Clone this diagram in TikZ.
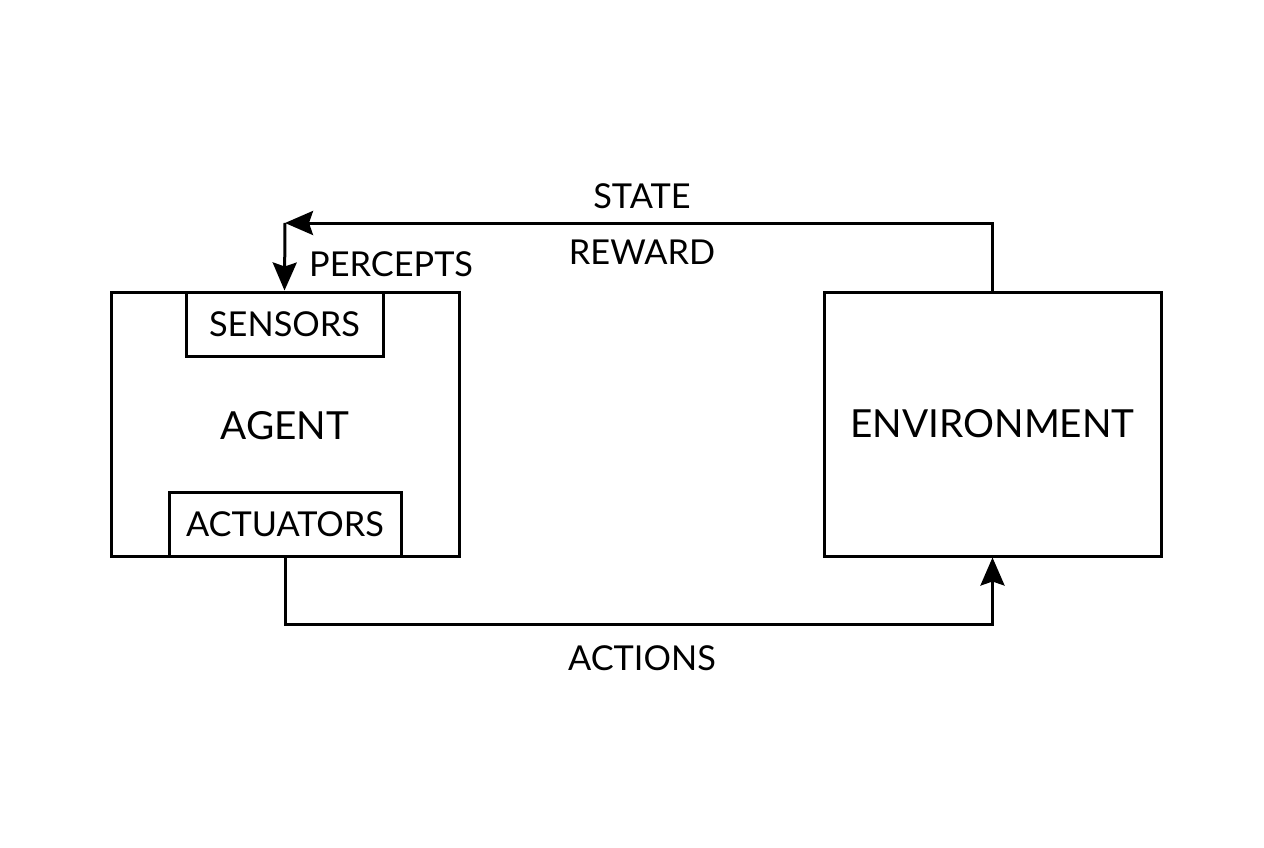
\documentclass[tikz,border=0pt]{standalone}
\usepackage{fontspec}
\setmainfont{Lato}
\usetikzlibrary{arrows.meta}
\begin{document}
\begin{tikzpicture}[x=1pt,y=-1pt,
  box/.style={draw=black,line width=3pt,inner sep=0pt},
  lbl/.style={font=\fontsize{34.3}{40}\selectfont,inner sep=0pt},
  big/.style={font=\fontsize{38.7}{46}\selectfont,inner sep=0pt},
  conn/.style={line width=3pt,line join=miter,-{Stealth[length=28pt,width=24pt,inset=4pt]}},
  plain/.style={line width=3pt}]
\useasboundingbox (0,0) rectangle (1264,848);
\fill[white] (0,0) rectangle (1264,848);
% boxes
\node[box,minimum width=348pt,minimum height=264pt] (agent) at (285,424) {};
\node[big] (agenttxt) at (285,426) {AGENT};
\node[box,fill=white,minimum width=197pt,minimum height=64pt,lbl] (sensors) at (284.5,324) {\raisebox{-1.5pt}{SENSORS}};
\node[box,fill=white,minimum width=232pt,minimum height=64pt,lbl] (act) at (285,524) {\raisebox{-1.5pt}{ACTUATORS}};
\node[box,minimum width=337pt,minimum height=264pt,big] (env) at (992.5,424) {\raisebox{-1.5pt}{ENVIRONMENT}};
% connectors
\coordinate (corner) at (285,223);
\coordinate (bottom) at (285,624);
\draw[conn] (env.north) |- (corner);
\draw[conn] (corner) -- (sensors.north);
\draw[conn] (act.south) -- (bottom) -| (env.south);
% labels
\node[lbl] (state) at (642,196) {STATE};
\node[lbl] (reward) at (642,252) {REWARD};
\node[lbl,anchor=west] (percepts) at (309,264) {PERCEPTS};
\node[lbl] (actions) at (642,658) {ACTIONS};
\end{tikzpicture}
\end{document}
